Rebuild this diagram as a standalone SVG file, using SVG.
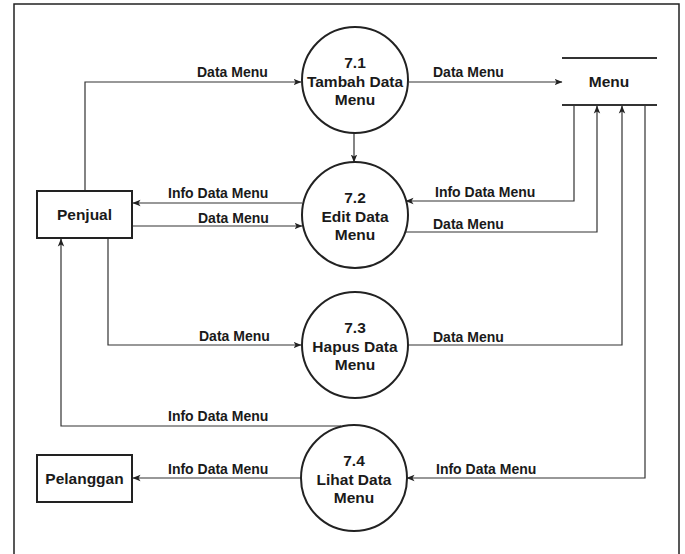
<svg xmlns="http://www.w3.org/2000/svg" width="685" height="554" viewBox="0 0 685 554">
  <style>
    .frame { fill: none; stroke: #222; stroke-width: 1.5; }
    .node { fill: #fff; stroke: #222; stroke-width: 2; }
    .store { fill: none; stroke: #333; stroke-width: 2; }
    .flow { fill: none; stroke: #333; stroke-width: 1.2; marker-end: url(#arrow); }
    .ntext { font-family: "Liberation Sans", Arial, sans-serif; font-weight: bold; font-size: 15.5px; fill: #1a1a1a; text-anchor: middle; }
    .label { font-family: "Liberation Sans", Arial, sans-serif; font-weight: bold; font-size: 14px; fill: #1a1a1a; }
  </style>
  <defs>
    <marker id="arrow" viewBox="0 0 8 8" refX="7.5" refY="4" markerWidth="8" markerHeight="8" markerUnits="userSpaceOnUse" orient="auto">
      <path d="M0,0.8 L8,4 L0,7.2 L2,4 Z" fill="#222"/>
    </marker>
  </defs>

  <rect width="685" height="554" fill="#fff"/>
  <path class="frame" d="M14,556 V4 H679 V556"/>

  <g id="connectors">
    <path class="flow" d="M85,191 V82 H301"/>
    <path class="flow" d="M409,82 H562"/>
    <path class="flow" d="M354,133 V162"/>
    <path class="flow" d="M302,203 H133"/>
    <path class="flow" d="M133,226 H302"/>
    <path class="flow" d="M574,106 V201 H406"/>
    <path class="flow" d="M404,232 H597 V106"/>
    <path class="flow" d="M108,238 V345 H301"/>
    <path class="flow" d="M407,345 H622 V106"/>
    <path class="flow" d="M341,426 H61 V239"/>
    <path class="flow" d="M301,478 H133"/>
    <path class="flow" d="M645,106 V478 H407"/>
  </g>

  <g id="labels">
    <text class="label" x="197" y="77">Data Menu</text>
    <text class="label" x="433" y="77">Data Menu</text>
    <text class="label" x="168" y="198">Info Data Menu</text>
    <text class="label" x="198" y="223">Data Menu</text>
    <text class="label" x="435" y="197">Info Data Menu</text>
    <text class="label" x="433" y="229">Data Menu</text>
    <text class="label" x="199" y="341">Data Menu</text>
    <text class="label" x="433" y="342">Data Menu</text>
    <text class="label" x="168" y="421">Info Data Menu</text>
    <text class="label" x="168" y="474">Info Data Menu</text>
    <text class="label" x="436" y="474">Info Data Menu</text>
  </g>

  <g id="penjual">
    <rect class="node" x="37" y="191" width="95" height="47"/>
    <text class="ntext" x="84.5" y="220">Penjual</text>
  </g>

  <g id="pelanggan">
    <rect class="node" x="37" y="455" width="95" height="47"/>
    <text class="ntext" x="84.5" y="484">Pelanggan</text>
  </g>

  <g id="menu-store">
    <line class="store" x1="562" y1="58" x2="657" y2="58"/>
    <line class="store" x1="562" y1="105" x2="657" y2="105"/>
    <text class="ntext" x="609" y="87">Menu</text>
  </g>

  <g id="p71">
    <circle class="node" cx="355" cy="80" r="53"/>
    <text class="ntext" x="355" y="68">7.1</text>
    <text class="ntext" x="355" y="86.5">Tambah Data</text>
    <text class="ntext" x="355" y="105">Menu</text>
  </g>

  <g id="p72">
    <circle class="node" cx="355" cy="215" r="53"/>
    <text class="ntext" x="355" y="203">7.2</text>
    <text class="ntext" x="355" y="221.5">Edit Data</text>
    <text class="ntext" x="355" y="240">Menu</text>
  </g>

  <g id="p73">
    <circle class="node" cx="355" cy="345" r="53"/>
    <text class="ntext" x="355" y="333">7.3</text>
    <text class="ntext" x="355" y="351.5">Hapus Data</text>
    <text class="ntext" x="355" y="370">Menu</text>
  </g>

  <g id="p74">
    <circle class="node" cx="354" cy="478" r="53"/>
    <text class="ntext" x="354" y="466">7.4</text>
    <text class="ntext" x="354" y="484.5">Lihat Data</text>
    <text class="ntext" x="354" y="503">Menu</text>
  </g>
</svg>
